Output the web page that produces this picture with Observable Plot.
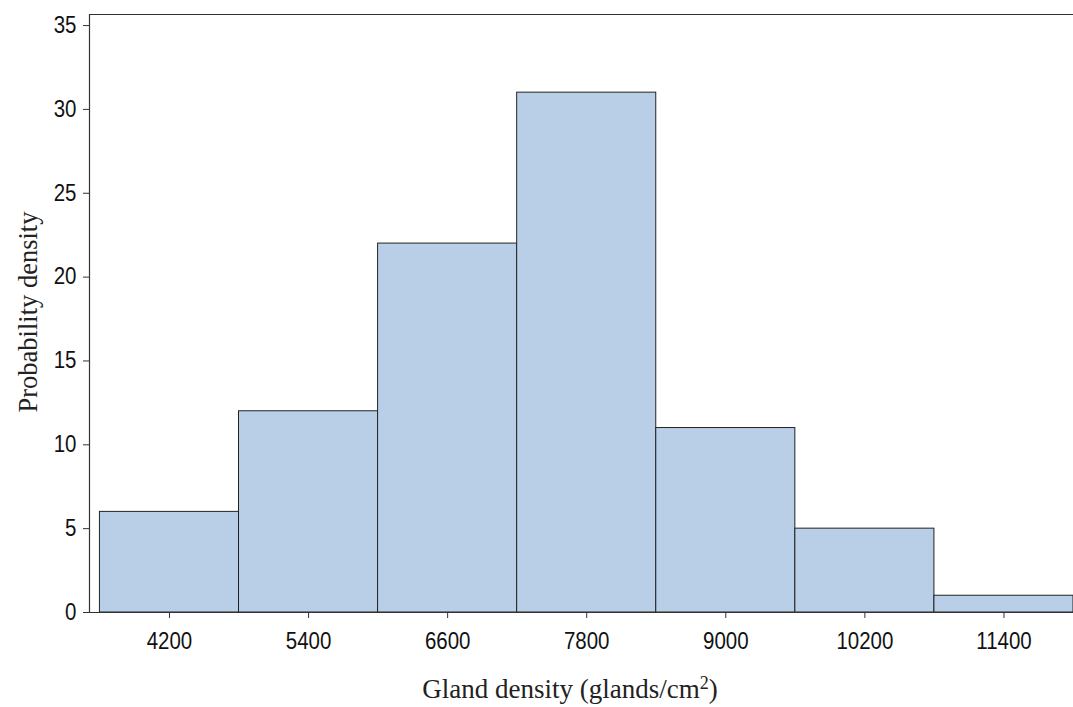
<!DOCTYPE html>
<html>
<head>
<meta charset="utf-8">
<script src="https://cdn.jsdelivr.net/npm/d3@7"></script>
<script src="https://cdn.jsdelivr.net/npm/@observablehq/plot@0.6"></script>
<style>
  html, body { margin: 0; padding: 0; background: #fff; }
  #chart svg { display: block; }
</style>
</head>
<body>
<div id="chart"></div>
<script>
// Data
const binCenters = [4200, 5400, 6600, 7800, 9000, 10200, 11400];
const densities = [6, 12, 22, 31, 11, 5, 1];
const binWidth = 1200;
const xTicks = [4200, 5400, 6600, 7800, 9000, 10200, 11400];
const yTicks = [0, 5, 10, 15, 20, 25, 30, 35];
const xDomain = [3510, 12000];
const yDomain = [0, 35.66];

const bars = binCenters.map((c, i) => ({x1: c - binWidth / 2, x2: c + binWidth / 2, y: densities[i]}));

const chart = Plot.plot({
  width: 1073,
  height: 707,
  marginLeft: 89,
  marginRight: 0,
  marginTop: 14,
  marginBottom: 95,
  style: {background: "#fff", overflow: "visible"},
  x: {domain: xDomain, ticks: xTicks, tickFormat: d => String(d), label: null},
  y: {domain: yDomain, ticks: yTicks, label: null},
  marks: [
    Plot.rectY(bars, {x1: "x1", x2: "x2", y: "y", fill: "#b9cfe7", stroke: "#222", strokeWidth: 1}),
    Plot.ruleX([xDomain[0]], {stroke: "#333", strokeWidth: 1.2}),
    Plot.ruleY([yDomain[1]], {stroke: "#333", strokeWidth: 1.2}),
    Plot.ruleY([0], {stroke: "#333", strokeWidth: 1.2}),
    Plot.axisX({ticks: xTicks, tickFormat: d => String(d), tickSize: 6, tickPadding: 14, fontSize: 23, label: null, stroke: "#333"}),
    Plot.axisY({ticks: yTicks, tickSize: 6, tickPadding: 7, fontSize: 23, label: null, stroke: "#333"})
  ]
});

const svg = d3.select(chart);
svg.selectAll("g[aria-label='x-axis tick label'] text, g[aria-label='y-axis tick label'] text")
  .style("font-family", "'Liberation Sans', Arial, sans-serif")
  .style("fill", "#111")
  .each(function() {
    const t = this.getAttribute("transform") || "";
    this.setAttribute("transform", t + " scale(0.89,1)");
  });

svg.append("text")
  .attr("x", 570).attr("y", 698)
  .attr("text-anchor", "middle")
  .style("font-family", "'Liberation Serif', 'Times New Roman', serif")
  .style("font-size", "27px")
  .style("fill", "#222")
  .html("Gland density (glands/cm<tspan dy='-9' font-size='18px'>2</tspan><tspan dy='9'>)</tspan>");

svg.append("text")
  .attr("transform", "translate(37,312) rotate(-90)")
  .attr("text-anchor", "middle")
  .style("font-family", "'Liberation Serif', 'Times New Roman', serif")
  .style("font-size", "26.5px")
  .style("fill", "#222")
  .text("Probability density");

document.getElementById("chart").appendChild(chart);
</script>
</body>
</html>
